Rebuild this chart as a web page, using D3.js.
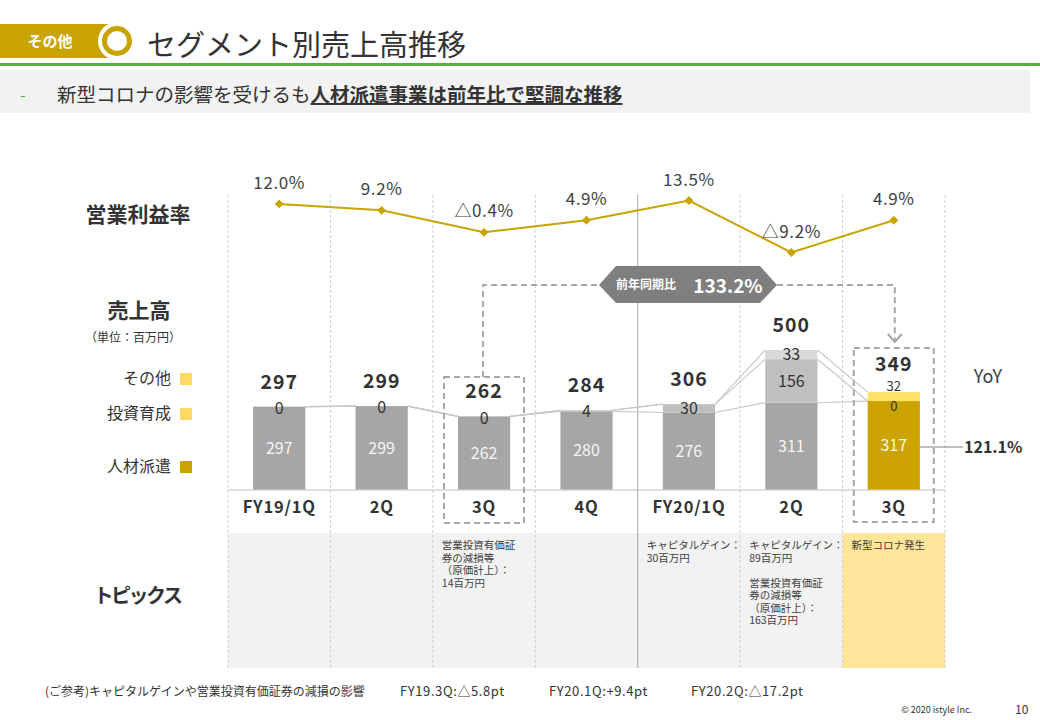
<!DOCTYPE html>
<html><head><meta charset="utf-8">
<script src="https://cdn.jsdelivr.net/npm/d3@7"></script>
<style>
html,body{margin:0;padding:0;background:#fff;}
svg{display:block;}
text{font-family:"Noto Sans CJK JP","Noto Sans",sans-serif;}
.topic{font-family:"Noto Sans CJK JP",sans-serif;font-size:10.5px;line-height:12.5px;color:#404040;white-space:pre;margin:0;padding:0;}
</style></head>
<body>
<svg id="c" width="1040" height="720"></svg>
<script>
// ---- data ----
const categories = ["FY19/1Q","2Q","3Q","4Q","FY20/1Q","2Q ","3Q "];
const haken  = [297,299,262,280,276,311,317];   // 人材派遣
const ikusei = [0,0,0,4,30,156,0];               // 投資育成
const other  = [0,0,0,0,0,33,32];                // その他
const totals = [297,299,262,284,306,500,349];
const margin = [12.0,9.2,-0.4,4.9,13.5,-9.2,4.9];
const marginLabels = ["12.0%","9.2%","△0.4%","4.9%","13.5%","△9.2%","4.9%"];
const topics = [
  [],[],
  ["営業投資有価証","券の減損等","（原価計上）：","14百万円"],
  [],
  ["キャピタルゲイン：","30百万円"],
  ["キャピタルゲイン：","89百万円","","営業投資有価証","券の減損等","（原価計上）：","163百万円"],
  ["新型コロナ発生"]
];
const legendItems = ["その他","投資育成","人材派遣"];
const footNotes = ["(ご参考)キャピタルゲインや営業投資有価証券の減損の影響","FY19.3Q:△5.8pt","FY20.1Q:+9.4pt","FY20.2Q:△17.2pt"];

const svg = d3.select("#c");
const GOLD = "#c9a400", DARK = "#333";
const numFont = "'DejaVu Sans',Verdana,sans-serif";
const tightFont = "'Liberation Sans','Noto Sans CJK JP',sans-serif";

// ---- header ----
svg.append("rect").attr("x",0).attr("y",24).attr("width",112).attr("height",34).attr("fill",GOLD);
svg.append("circle").attr("cx",117).attr("cy",41).attr("r",19).attr("fill","#fff");
svg.append("circle").attr("cx",117).attr("cy",41).attr("r",12.5).attr("fill","#fff").attr("stroke",GOLD).attr("stroke-width",5);
svg.append("text").attr("x",50).attr("y",47).attr("text-anchor","middle").attr("fill","#fff")
  .attr("font-size",15).attr("font-weight","bold").text("その他");
svg.append("text").attr("x",147).attr("y",56).attr("fill",DARK).attr("font-size",29).text("セグメント別売上高推移");
svg.append("rect").attr("x",0).attr("y",63).attr("width",1040).attr("height",3).attr("fill","#5aac44");
svg.append("rect").attr("x",0).attr("y",70).attr("width",1030).attr("height",43).attr("fill","#f2f2f2");
svg.append("text").attr("x",20).attr("y",101).attr("fill","#5aac44").attr("font-size",16).text("-");
const sub = svg.append("text").attr("x",57).attr("y",102).attr("fill",DARK).attr("font-size",19.5);
sub.append("tspan").text("新型コロナの影響を受けるも");
sub.append("tspan").attr("font-weight","bold").attr("text-decoration","underline").text("人材派遣事業は前年比で堅調な推移");

// ---- scales ----
const x = d3.scaleBand().domain(categories).range([228,945]).paddingInner(0.49).paddingOuter(0.245);
const y = d3.scaleLinear().domain([0,500]).range([489.5,350]);
const ym = d3.scaleLinear().domain([-9.2,13.5]).range([252.5,200.5]);
const step = x.step();
const cx = c => x(c) + x.bandwidth()/2;

// topics background
svg.append("rect").attr("x",228).attr("y",533).attr("width",step*6).attr("height",135).attr("fill","#f2f2f2");
svg.append("rect").attr("x",228+step*6).attr("y",533).attr("width",step).attr("height",135).attr("fill","#ffe699");

// vertical grid lines
d3.range(8).forEach(i=>{
  const gx = 228 + i*step;
  svg.append("line").attr("x1",gx).attr("x2",gx).attr("y1",195).attr("y2",668)
    .attr("stroke", i===4 ? "#a6a6a6" : "#d0d0d0").attr("stroke-width",1)
    .attr("stroke-dasharray", i===4 ? null : "3,2");
});

// baseline axis
const xAxis = d3.axisBottom(x).tickSize(0).tickPadding(12);
const ax = svg.append("g").attr("transform","translate(0,489.5)").call(xAxis);
ax.select(".domain").attr("stroke","#bfbfbf");
ax.selectAll("text").attr("font-family",numFont).attr("font-weight","bold").attr("font-size",16.5)
  .attr("letter-spacing",0.8).attr("fill",DARK);

// ---- left labels ----
svg.append("text").attr("x",138).attr("y",222).attr("text-anchor","middle").attr("font-size",21).attr("font-weight","bold").attr("fill",DARK).text("営業利益率");
svg.append("text").attr("x",139).attr("y",318).attr("text-anchor","middle").attr("font-size",21).attr("font-weight","bold").attr("fill",DARK).text("売上高");
svg.append("text").attr("x",133).attr("y",342).attr("text-anchor","middle").attr("font-size",12).attr("fill",DARK).text("（単位：百万円）");
svg.append("text").attr("x",137).attr("y",603).attr("text-anchor","middle").attr("font-size",20).attr("letter-spacing",-2.5).attr("font-weight","bold").attr("fill",DARK).text("トピックス");
const legY = [379,414,467];
const legC = ["#ffd966","#ffd966","#c9a400"];
legendItems.forEach((t,i)=>{
  svg.append("text").attr("x",171).attr("y",legY[i]+5).attr("text-anchor","end").attr("font-size",16).attr("fill",DARK).text(t);
  svg.append("rect").attr("x",180).attr("y",legY[i]-6).attr("width",12).attr("height",12).attr("fill",legC[i]);
});

// ---- stacked bars ----
const stackData = categories.map((c,i)=>({c, haken:haken[i], ikusei:ikusei[i], other:other[i]}));
const keys = ["haken","ikusei","other"];
const series = d3.stack().keys(keys)(stackData);
const colorsNormal = {haken:"#a6a6a6", ikusei:"#bfbfbf", other:"#d9d9d9"};
const colorsHi = {haken:"#cca300", ikusei:"#ffe066", other:"#ffe066"};
const last = categories.length-1;

// connector lines between bars (tops of cumulative levels)
series.forEach(s=>{
  for(let i=0;i<s.length-1;i++){
    svg.append("line")
      .attr("x1", x(categories[i]) + x.bandwidth()).attr("y1", y(s[i][1]))
      .attr("x2", x(categories[i+1])).attr("y2", y(s[i+1][1]))
      .attr("stroke","#c8c8c8").attr("stroke-width",1.2);
  }
});

series.forEach(s=>{
  svg.append("g").selectAll("rect").data(s).join("rect")
    .attr("x", d=>x(d.data.c)).attr("width", x.bandwidth())
    .attr("y", d=>y(d[1])).attr("height", d=>y(d[0])-y(d[1]))
    .attr("fill", (d,i)=> i===last ? colorsHi[s.key] : colorsNormal[s.key]);
});

// segment labels
series.forEach(s=>{
  s.forEach((d,i)=>{
    const v = d.data[s.key];
    if(s.key==="other" && v===0) return;
    let ly = (y(d[0])+y(d[1]))/2;
    let fs = 16;
    if(s.key==="ikusei" && v===0) ly += 1.5;
    if(i===last && s.key!=="haken"){ fs = 13; }
    if(s.key==="other" && i===last) ly -= 10.3;
    if(s.key==="ikusei" && i===last) ly += 4;
    svg.append("text").attr("x", cx(d.data.c)).attr("y", ly).attr("dy","0.36em")
      .attr("text-anchor","middle").attr("font-size",fs)
      .attr("font-family", s.key==="haken" ? null : tightFont)
      .attr("fill", s.key==="haken" ? "#f5f5f5" : DARK).text(v);
  });
});

// totals
svg.append("g").selectAll("text").data(categories).join("text")
  .attr("x", c=>cx(c)).attr("y",(c,i)=>y(totals[i]) - (i===last ? 28 : 25)).attr("dy","0.36em")
  .attr("text-anchor","middle").attr("font-family",numFont).attr("font-weight","bold").attr("font-size",19.5)
  .attr("letter-spacing",1).attr("fill",DARK)
  .text((c,i)=>totals[i]);

// YoY
svg.append("text").attr("x",988).attr("y",377).attr("dy","0.36em").attr("text-anchor","middle").attr("font-size",18).attr("fill","#404040").text("YoY");
svg.append("line").attr("x1",x(categories[last])+x.bandwidth()).attr("x2",963).attr("y1",447).attr("y2",447).attr("stroke","#808080");
svg.append("text").attr("x",964).attr("y",447).attr("dy","0.36em").attr("font-family",numFont).attr("font-weight","bold").attr("font-size",16).attr("fill",DARK).text("121.1%");

// ---- operating margin line ----
const line = d3.line().x((d,i)=>cx(categories[i])).y(d=>ym(d));
svg.append("path").datum(margin).attr("d",line).attr("fill","none").attr("stroke",GOLD).attr("stroke-width",2);
svg.append("g").selectAll("path").data(margin).join("path")
  .attr("d", d3.symbol(d3.symbolDiamond2, 50)())
  .attr("transform",(d,i)=>`translate(${cx(categories[i])},${ym(d)})`).attr("fill",GOLD);
svg.append("g").selectAll("text").data(margin).join("text")
  .attr("x",(d,i)=>cx(categories[i])).attr("y",d=>ym(d)-21).attr("dy","0.36em")
  .attr("text-anchor","middle").attr("font-size",17).attr("letter-spacing",0.6).attr("fill","#404040")
  .text((d,i)=>marginLabels[i]);

// ---- highlight boxes & connector ----
const dash = {stroke:"#a6a6a6", w:2, d:"6,4"};
function box(x0,y0,x1,y1){
  svg.append("rect").attr("x",x0).attr("y",y0).attr("width",x1-x0).attr("height",y1-y0)
    .attr("fill","none").attr("stroke",dash.stroke).attr("stroke-width",dash.w).attr("stroke-dasharray",dash.d);
}
const c3 = cx(categories[2]), c7 = cx(categories[last]);
box(c3-40, 377, c3+40, 523);
box(c7-40, 348, c7+40, 522);
svg.append("path").attr("d",`M${c3-1},377 V285 H600`).attr("fill","none")
  .attr("stroke",dash.stroke).attr("stroke-width",dash.w).attr("stroke-dasharray",dash.d);
svg.append("path").attr("d",`M777,285 H${c7+1} V341`).attr("fill","none")
  .attr("stroke",dash.stroke).attr("stroke-width",dash.w).attr("stroke-dasharray",dash.d);
svg.append("path").attr("d",`M${c7-6},334 L${c7+1},342 L${c7+8},334`).attr("fill","none").attr("stroke",dash.stroke).attr("stroke-width",2);
svg.append("path").attr("d","M599,285 L616,266 L760,266 L777,285 L760,303 L616,303 Z").attr("fill","#7f7f7f");
svg.append("text").attr("x",646).attr("y",285).attr("dy","0.36em").attr("text-anchor","middle").attr("font-size",12).attr("font-weight","bold").attr("fill","#fff").text("前年同期比");
svg.append("text").attr("x",728).attr("y",286).attr("dy","0.36em").attr("text-anchor","middle").attr("font-family",numFont).attr("font-size",19).attr("font-weight","bold").attr("fill","#fff").text("133.2%");

// ---- topics (multi-line text blocks) ----
topics.forEach((lines,i)=>{
  if(!lines.length) return;
  const x0 = 228 + i*step + 9;
  svg.append("foreignObject").attr("x", x0).attr("y", 539).attr("width", step-6).attr("height", 125)
    .append("xhtml:div").attr("class","topic").text(lines.join("\n"));
});

// ---- footer ----
const fx = [45,400,549,691];
footNotes.forEach((t,i)=>{
  svg.append("text").attr("x",fx[i]).attr("y",696).attr("font-size", i===0 ? 12 : 13)
    .attr("letter-spacing", i===0 ? 0 : 0.6).attr("fill",DARK).text(t);
});
svg.append("text").attr("x",972).attr("y",713).attr("text-anchor","end").attr("font-size",9).attr("fill",DARK).text("© 2020 istyle Inc.");
svg.append("text").attr("x",1015).attr("y",714).attr("font-size",12).attr("fill",DARK).text("10");
</script>
</body></html>
